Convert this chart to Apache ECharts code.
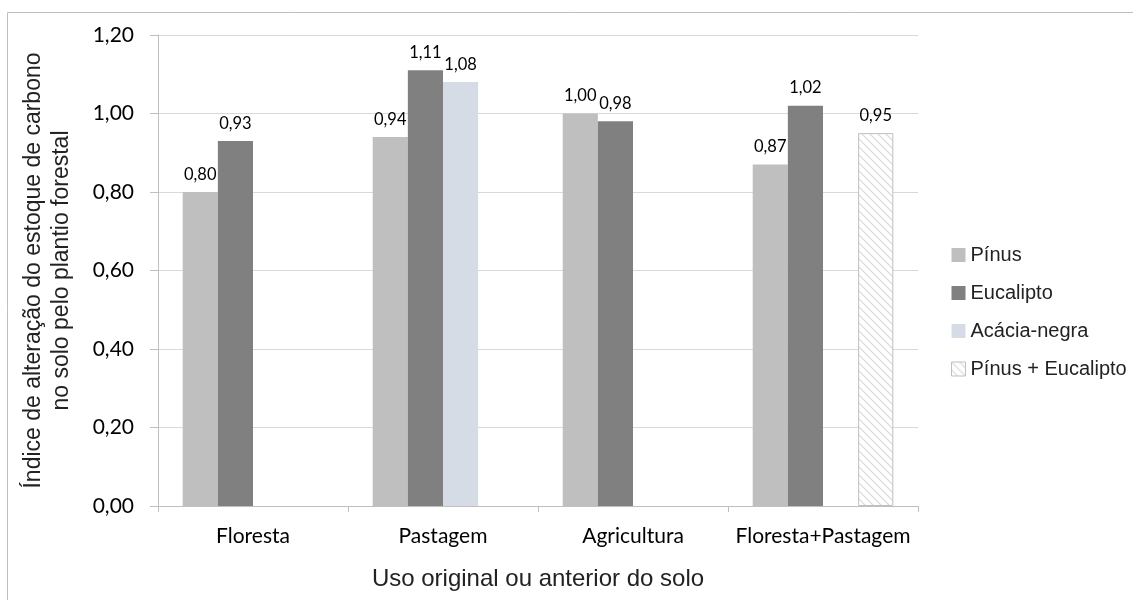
<!DOCTYPE html>
<html><head><meta charset="utf-8">
<script src="https://cdn.jsdelivr.net/npm/echarts@6/dist/echarts.min.js"></script>
<style>html,body{margin:0;padding:0;background:#fff}#c{width:1133px;height:600px}</style>
</head><body><div id="c"></div>
<script>
const categories = ['Floresta', 'Pastagem', 'Agricultura', 'Floresta+Pastagem'];
const seriesNames = ['Pínus', 'Eucalipto', 'Acácia-negra', 'Pínus + Eucalipto'];
const pinus = [0.80, 0.94, 1.00, 0.87];
const eucalipto = [0.93, 1.11, 0.98, 1.02];
const acacia = [null, 1.08, null, null];
const pinusEucalipto = [null, null, null, 0.95];
const yTicks = [0, 0.2, 0.4, 0.6, 0.8, 1.0, 1.2];

function hatch() {
  const c = document.createElement('canvas');
  c.width = 8; c.height = 8;
  const g = c.getContext('2d');
  g.fillStyle = '#ffffff'; g.fillRect(0, 0, 8, 8);
  g.strokeStyle = '#d9d9d9'; g.lineWidth = 1.2;
  g.beginPath();
  g.moveTo(0, 0); g.lineTo(8, 8);
  g.moveTo(-4, 4); g.lineTo(4, 12);
  g.moveTo(4, -4); g.lineTo(12, 4);
  g.stroke();
  return { image: c, repeat: 'repeat' };
}
const fmt = v => v.toFixed(2).replace('.', ',');
const calib = 'Lato, "Open Sans", sans-serif';
const arial = '"Liberation Sans", Arial, sans-serif';
const label = {
  show: true, position: 'top', distance: 9,
  fontFamily: calib, fontSize: 16.5, color: '#000',
  formatter: p => p.value == null ? '' : fmt(p.value)
};
const colors = ['#bfbfbf', '#808080', '#d6dce5', hatch()];
const datas = [pinus, eucalipto, acacia, pinusEucalipto];
const chart = echarts.init(document.getElementById('c'), null, { renderer: 'canvas' });
chart.setOption({
  animation: false,
  backgroundColor: '#fff',
  graphic: [{
    type: 'rect', shape: { x: 7.5, y: 12.5, width: 1200, height: 700 },
    style: { fill: 'none', stroke: '#bfbfbf', lineWidth: 1 }, silent: true, z: -10
  }],
  grid: { left: 158, right: 215, top: 35, bottom: 94 },
  legend: {
    orient: 'vertical', left: 946, top: 240, itemWidth: 14, itemHeight: 14, itemGap: 18,
    textStyle: { fontFamily: arial, fontSize: 20, color: '#222' },
    data: seriesNames.map((n, i) => ({ name: n, icon: 'rect', itemStyle: i === 3 ? { borderColor: '#bfbfbf', borderWidth: 1 } : {} }))
  },
  xAxis: {
    type: 'category', data: categories,
    name: 'Uso original ou anterior do solo', nameLocation: 'middle', nameGap: 61,
    nameTextStyle: { fontFamily: arial, fontSize: 24, color: '#222' },
    axisLine: { lineStyle: { color: '#bfbfbf' } },
    axisTick: { show: true, length: 6, interval: 0, lineStyle: { color: '#bfbfbf' } },
    axisLabel: { fontFamily: calib, fontSize: 21, color: '#000', margin: 20, interval: 0 }
  },
  yAxis: {
    type: 'value', min: 0, max: 1.2, interval: 0.2,
    name: 'Índice de alteração do estoque de carbono\nno solo pelo plantio forestal',
    nameLocation: 'middle', nameGap: 82, nameRotate: 90,
    nameTextStyle: { fontFamily: arial, fontSize: 23, color: '#222', lineHeight: 28 },
    axisLine: { show: true, lineStyle: { color: '#bfbfbf' } },
    axisTick: { show: true, length: 8, inside: false, lineStyle: { color: '#bfbfbf' } },
    splitLine: { lineStyle: { color: '#d9d9d9' } },
    axisLabel: {
      fontFamily: calib, fontSize: 21, color: '#000', margin: 24,
      formatter: v => yTicks.some(t => Math.abs(t - v) < 1e-9) ? fmt(v) : ''
    }
  },
  series: seriesNames.map((n, i) => ({
    name: n, type: 'bar', data: datas[i], barGap: '0%', barCategoryGap: '26%',
    itemStyle: i === 3 ? { color: colors[3], borderColor: '#bfbfbf', borderWidth: 1 } : { color: colors[i] },
    label: label
  }))
});
</script></body></html>
